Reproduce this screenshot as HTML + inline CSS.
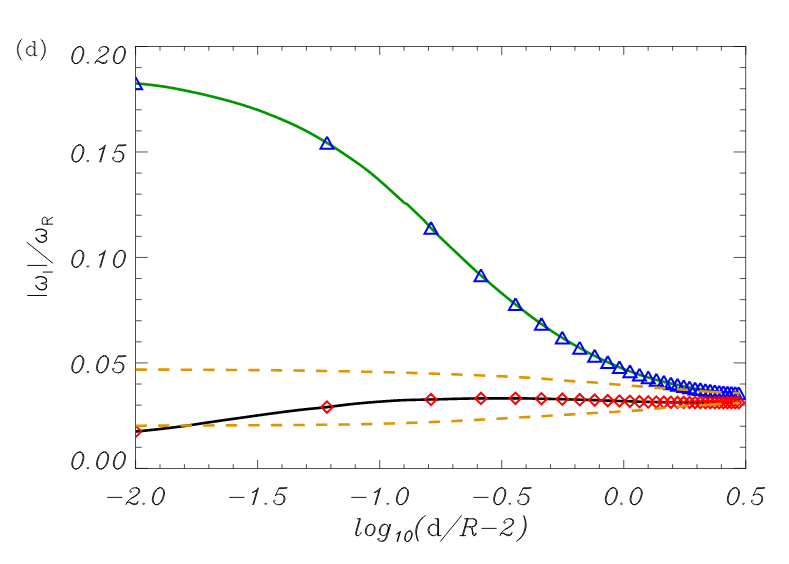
<!DOCTYPE html>
<html><head><meta charset="utf-8"><title>plot</title>
<style>html,body{margin:0;padding:0;background:#fff;font-family:"Liberation Sans",sans-serif;}svg{display:block}</style>
</head><body>
<svg width="789" height="564" viewBox="0 0 789 564" role="img" aria-label="(d) |omega_I|/omega_R versus log10(d/R-2)">
<title>(d) |ω_I|/ω_R vs log10(d/R−2)</title>
<desc>Line chart. x axis log10(d/R-2) from -2.0 to 0.5; y axis |ω_I|/ω_R from 0.00 to 0.20. Green solid curve with blue triangles, black solid curve with red diamonds, two orange dashed curves.</desc>
<rect width="789" height="564" fill="#fff"/>
<defs><clipPath id="pc"><rect x="135.6" y="46.5" width="610.1999999999999" height="421.9"/></clipPath></defs>
<rect x="135.6" y="46.5" width="610.1999999999999" height="421.9" fill="none" stroke="#000" stroke-width="0.68"/>
<path d="M135.60,468.4 v-8.44 M135.60,46.5 v8.44 M160.01,468.4 v-4.22 M160.01,46.5 v4.22 M184.42,468.4 v-4.22 M184.42,46.5 v4.22 M208.82,468.4 v-4.22 M208.82,46.5 v4.22 M233.23,468.4 v-4.22 M233.23,46.5 v4.22 M257.64,468.4 v-8.44 M257.64,46.5 v8.44 M282.05,468.4 v-4.22 M282.05,46.5 v4.22 M306.46,468.4 v-4.22 M306.46,46.5 v4.22 M330.86,468.4 v-4.22 M330.86,46.5 v4.22 M355.27,468.4 v-4.22 M355.27,46.5 v4.22 M379.68,468.4 v-8.44 M379.68,46.5 v8.44 M404.09,468.4 v-4.22 M404.09,46.5 v4.22 M428.50,468.4 v-4.22 M428.50,46.5 v4.22 M452.90,468.4 v-4.22 M452.90,46.5 v4.22 M477.31,468.4 v-4.22 M477.31,46.5 v4.22 M501.72,468.4 v-8.44 M501.72,46.5 v8.44 M526.13,468.4 v-4.22 M526.13,46.5 v4.22 M550.54,468.4 v-4.22 M550.54,46.5 v4.22 M574.94,468.4 v-4.22 M574.94,46.5 v4.22 M599.35,468.4 v-4.22 M599.35,46.5 v4.22 M623.76,468.4 v-8.44 M623.76,46.5 v8.44 M648.17,468.4 v-4.22 M648.17,46.5 v4.22 M672.58,468.4 v-4.22 M672.58,46.5 v4.22 M696.98,468.4 v-4.22 M696.98,46.5 v4.22 M721.39,468.4 v-4.22 M721.39,46.5 v4.22 M745.80,468.4 v-8.44 M745.80,46.5 v8.44 M135.6,468.40 h12.2 M745.8,468.40 h-12.2 M135.6,447.30 h6.1 M745.8,447.30 h-6.1 M135.6,426.21 h6.1 M745.8,426.21 h-6.1 M135.6,405.12 h6.1 M745.8,405.12 h-6.1 M135.6,384.02 h6.1 M745.8,384.02 h-6.1 M135.6,362.92 h12.2 M745.8,362.92 h-12.2 M135.6,341.83 h6.1 M745.8,341.83 h-6.1 M135.6,320.74 h6.1 M745.8,320.74 h-6.1 M135.6,299.64 h6.1 M745.8,299.64 h-6.1 M135.6,278.54 h6.1 M745.8,278.54 h-6.1 M135.6,257.45 h12.2 M745.8,257.45 h-12.2 M135.6,236.35 h6.1 M745.8,236.35 h-6.1 M135.6,215.26 h6.1 M745.8,215.26 h-6.1 M135.6,194.16 h6.1 M745.8,194.16 h-6.1 M135.6,173.07 h6.1 M745.8,173.07 h-6.1 M135.6,151.97 h12.2 M745.8,151.97 h-12.2 M135.6,130.88 h6.1 M745.8,130.88 h-6.1 M135.6,109.79 h6.1 M745.8,109.79 h-6.1 M135.6,88.69 h6.1 M745.8,88.69 h-6.1 M135.6,67.60 h6.1 M745.8,67.60 h-6.1 M135.6,46.50 h12.2 M745.8,46.50 h-12.2 " fill="none" stroke="#000" stroke-width="0.68"/>
<g clip-path="url(#pc)">
<path d="M135.50,83.40 L136.17,83.45 L136.85,83.50 L137.52,83.56 L138.19,83.61 L138.86,83.67 L139.54,83.73 L140.21,83.79 L140.88,83.85 L141.55,83.91 L142.23,83.97 L142.90,84.04 L143.57,84.10 L144.24,84.17 L144.92,84.24 L145.59,84.31 L146.26,84.38 L146.94,84.45 L147.61,84.52 L148.28,84.60 L148.95,84.67 L149.63,84.75 L150.30,84.83 L150.97,84.90 L151.64,84.98 L152.32,85.06 L152.99,85.15 L153.66,85.23 L154.33,85.31 L155.01,85.39 L155.68,85.48 L156.35,85.57 L157.02,85.65 L157.70,85.74 L158.37,85.83 L159.04,85.92 L159.72,86.01 L160.39,86.10 L161.06,86.19 L161.73,86.28 L162.41,86.38 L163.08,86.48 L163.75,86.58 L164.42,86.68 L165.10,86.79 L165.77,86.89 L166.44,87.00 L167.11,87.11 L167.79,87.22 L168.46,87.34 L169.13,87.45 L169.81,87.57 L170.48,87.69 L171.15,87.81 L171.82,87.93 L172.50,88.05 L173.17,88.17 L173.84,88.30 L174.51,88.42 L175.19,88.55 L175.86,88.68 L176.53,88.81 L177.20,88.94 L177.88,89.07 L178.55,89.20 L179.22,89.33 L179.90,89.47 L180.57,89.60 L181.24,89.74 L181.91,89.87 L182.59,90.01 L183.26,90.15 L183.93,90.28 L184.60,90.42 L185.28,90.56 L185.95,90.70 L186.62,90.84 L187.29,90.97 L187.97,91.11 L188.64,91.25 L189.31,91.39 L189.98,91.53 L190.66,91.67 L191.33,91.81 L192.00,91.95 L192.68,92.09 L193.35,92.23 L194.02,92.38 L194.69,92.52 L195.37,92.67 L196.04,92.81 L196.71,92.96 L197.38,93.11 L198.06,93.26 L198.73,93.41 L199.40,93.56 L200.07,93.71 L200.75,93.86 L201.42,94.02 L202.09,94.17 L202.77,94.33 L203.44,94.48 L204.11,94.64 L204.78,94.80 L205.46,94.96 L206.13,95.12 L206.80,95.28 L207.47,95.44 L208.15,95.60 L208.82,95.76 L209.49,95.92 L210.16,96.09 L210.84,96.25 L211.51,96.42 L212.18,96.58 L212.86,96.75 L213.53,96.92 L214.20,97.09 L214.87,97.26 L215.55,97.43 L216.22,97.60 L216.89,97.77 L217.56,97.94 L218.24,98.11 L218.91,98.28 L219.58,98.45 L220.25,98.63 L220.93,98.80 L221.60,98.98 L222.27,99.15 L222.94,99.33 L223.62,99.51 L224.29,99.69 L224.96,99.87 L225.64,100.05 L226.31,100.23 L226.98,100.41 L227.65,100.59 L228.33,100.78 L229.00,100.96 L229.67,101.15 L230.34,101.34 L231.02,101.52 L231.69,101.71 L232.36,101.90 L233.03,102.09 L233.71,102.29 L234.38,102.48 L235.05,102.68 L235.73,102.87 L236.40,103.07 L237.07,103.27 L237.74,103.47 L238.42,103.67 L239.09,103.87 L239.76,104.07 L240.43,104.28 L241.11,104.48 L241.78,104.69 L242.45,104.90 L243.12,105.11 L243.80,105.32 L244.47,105.53 L245.14,105.75 L245.82,105.96 L246.49,106.18 L247.16,106.40 L247.83,106.62 L248.51,106.84 L249.18,107.06 L249.85,107.28 L250.52,107.51 L251.20,107.74 L251.87,107.97 L252.54,108.20 L253.21,108.43 L253.89,108.66 L254.56,108.90 L255.23,109.13 L255.91,109.37 L256.58,109.61 L257.25,109.85 L257.92,110.09 L258.60,110.33 L259.27,110.58 L259.94,110.82 L260.61,111.07 L261.29,111.32 L261.96,111.57 L262.63,111.82 L263.30,112.07 L263.98,112.32 L264.65,112.58 L265.32,112.83 L265.99,113.09 L266.67,113.35 L267.34,113.61 L268.01,113.87 L268.69,114.13 L269.36,114.39 L270.03,114.65 L270.70,114.92 L271.38,115.19 L272.05,115.45 L272.72,115.72 L273.39,115.99 L274.07,116.26 L274.74,116.54 L275.41,116.81 L276.08,117.08 L276.76,117.36 L277.43,117.64 L278.10,117.92 L278.78,118.20 L279.45,118.48 L280.12,118.76 L280.79,119.04 L281.47,119.33 L282.14,119.62 L282.81,119.91 L283.48,120.20 L284.16,120.49 L284.83,120.78 L285.50,121.07 L286.17,121.37 L286.85,121.67 L287.52,121.97 L288.19,122.27 L288.87,122.57 L289.54,122.87 L290.21,123.18 L290.88,123.48 L291.56,123.79 L292.23,124.10 L292.90,124.41 L293.57,124.73 L294.25,125.04 L294.92,125.36 L295.59,125.68 L296.26,126.00 L296.94,126.32 L297.61,126.64 L298.28,126.97 L298.95,127.29 L299.63,127.62 L300.30,127.95 L300.97,128.29 L301.65,128.62 L302.32,128.96 L302.99,129.30 L303.66,129.64 L304.34,129.99 L305.01,130.34 L305.68,130.69 L306.35,131.05 L307.03,131.40 L307.70,131.76 L308.37,132.12 L309.04,132.49 L309.72,132.86 L310.39,133.22 L311.06,133.60 L311.74,133.97 L312.41,134.34 L313.08,134.72 L313.75,135.10 L314.43,135.48 L315.10,135.86 L315.77,136.25 L316.44,136.64 L317.12,137.02 L317.79,137.41 L318.46,137.80 L319.13,138.20 L319.81,138.59 L320.48,138.99 L321.15,139.38 L321.83,139.78 L322.50,140.18 L323.17,140.58 L323.84,140.98 L324.52,141.39 L325.19,141.79 L325.86,142.19 L326.53,142.60 L327.21,143.01 L327.88,143.42 L328.55,143.83 L329.22,144.24 L329.90,144.66 L330.57,145.07 L331.24,145.49 L331.91,145.92 L332.59,146.34 L333.26,146.77 L333.93,147.20 L334.61,147.63 L335.28,148.06 L335.95,148.49 L336.62,148.93 L337.30,149.37 L337.97,149.81 L338.64,150.25 L339.31,150.69 L339.99,151.13 L340.66,151.58 L341.33,152.03 L342.00,152.48 L342.68,152.93 L343.35,153.38 L344.02,153.83 L344.70,154.28 L345.37,154.74 L346.04,155.20 L346.71,155.65 L347.39,156.11 L348.06,156.57 L348.73,157.03 L349.40,157.49 L350.08,157.95 L350.75,158.42 L351.42,158.88 L352.09,159.34 L352.77,159.81 L353.44,160.27 L354.11,160.74 L354.79,161.21 L355.46,161.68 L356.13,162.15 L356.80,162.63 L357.48,163.10 L358.15,163.58 L358.82,164.06 L359.49,164.54 L360.17,165.03 L360.84,165.52 L361.51,166.01 L362.18,166.50 L362.86,167.00 L363.53,167.50 L364.20,168.00 L364.87,168.50 L365.55,169.01 L366.22,169.53 L366.89,170.04 L367.57,170.56 L368.24,171.09 L368.91,171.62 L369.58,172.15 L370.26,172.69 L370.93,173.23 L371.60,173.78 L372.27,174.33 L372.95,174.89 L373.62,175.45 L374.29,176.01 L374.96,176.58 L375.64,177.15 L376.31,177.73 L376.98,178.30 L377.66,178.88 L378.33,179.46 L379.00,180.04 L379.67,180.63 L380.35,181.21 L381.02,181.80 L381.69,182.39 L382.36,182.98 L383.04,183.57 L383.71,184.16 L384.38,184.76 L385.05,185.35 L385.73,185.94 L386.40,186.55 L387.07,187.15 L387.75,187.76 L388.42,188.38 L389.09,188.99 L389.76,189.61 L390.44,190.22 L391.11,190.84 L391.78,191.45 L392.45,192.06 L393.13,192.67 L393.80,193.28 L394.47,193.89 L395.14,194.50 L395.82,195.11 L396.49,195.72 L397.16,196.33 L397.83,196.94 L398.51,197.55 L399.18,198.16 L399.85,198.76 L400.53,199.37 L401.20,199.98 L401.87,200.60 L402.54,201.26 L403.22,201.95 L403.89,202.55 L404.56,202.97 L405.23,203.27 L405.91,203.54 L406.58,203.85 L407.25,204.28 L407.92,204.90 L408.60,205.60 L409.27,206.26 L409.94,206.90 L410.62,207.55 L411.29,208.19 L411.96,208.83 L412.63,209.47 L413.31,210.11 L413.98,210.75 L414.65,211.39 L415.32,212.03 L416.00,212.67 L416.67,213.31 L417.34,213.95 L418.01,214.60 L418.69,215.24 L419.36,215.87 L420.03,216.50 L420.71,217.13 L421.38,217.77 L422.05,218.41 L422.72,219.07 L423.40,219.74 L424.07,220.43 L424.74,221.15 L425.41,221.88 L426.09,222.63 L426.76,223.39 L427.43,224.16 L428.10,224.92 L428.78,225.68 L429.45,226.44 L430.12,227.17 L430.80,227.89 L431.47,228.59 L432.14,229.29 L432.81,229.98 L433.49,230.67 L434.16,231.35 L434.83,232.03 L435.50,232.71 L436.18,233.38 L436.85,234.05 L437.52,234.72 L438.19,235.38 L438.87,236.05 L439.54,236.70 L440.21,237.36 L440.88,238.01 L441.56,238.66 L442.23,239.31 L442.90,239.96 L443.58,240.60 L444.25,241.24 L444.92,241.88 L445.59,242.52 L446.27,243.16 L446.94,243.80 L447.61,244.43 L448.28,245.07 L448.96,245.70 L449.63,246.34 L450.30,246.97 L450.97,247.60 L451.65,248.24 L452.32,248.87 L452.99,249.50 L453.67,250.14 L454.34,250.77 L455.01,251.40 L455.68,252.04 L456.36,252.67 L457.03,253.31 L457.70,253.95 L458.37,254.58 L459.05,255.22 L459.72,255.86 L460.39,256.49 L461.06,257.13 L461.74,257.77 L462.41,258.40 L463.08,259.04 L463.76,259.67 L464.43,260.30 L465.10,260.94 L465.77,261.57 L466.45,262.20 L467.12,262.83 L467.79,263.46 L468.46,264.09 L469.14,264.71 L469.81,265.34 L470.48,265.96 L471.15,266.59 L471.83,267.21 L472.50,267.83 L473.17,268.45 L473.84,269.06 L474.52,269.68 L475.19,270.29 L475.86,270.90 L476.54,271.51 L477.21,272.12 L477.88,272.72 L478.55,273.33 L479.23,273.93 L479.90,274.53 L480.57,275.12 L481.24,275.72 L481.92,276.31 L482.59,276.90 L483.26,277.49 L483.93,278.08 L484.61,278.67 L485.28,279.25 L485.95,279.84 L486.63,280.42 L487.30,281.00 L487.97,281.59 L488.64,282.17 L489.32,282.75 L489.99,283.33 L490.66,283.90 L491.33,284.48 L492.01,285.05 L492.68,285.63 L493.35,286.20 L494.02,286.77 L494.70,287.34 L495.37,287.91 L496.04,288.48 L496.72,289.04 L497.39,289.61 L498.06,290.17 L498.73,290.74 L499.41,291.30 L500.08,291.86 L500.75,292.42 L501.42,292.98 L502.10,293.54 L502.77,294.09 L503.44,294.65 L504.11,295.20 L504.79,295.75 L505.46,296.31 L506.13,296.86 L506.80,297.41 L507.48,297.95 L508.15,298.50 L508.82,299.05 L509.50,299.59 L510.17,300.13 L510.84,300.68 L511.51,301.22 L512.19,301.76 L512.86,302.30 L513.53,302.83 L514.20,303.37 L514.88,303.91 L515.55,304.44 L516.22,304.97 L516.89,305.50 L517.57,306.04 L518.24,306.57 L518.91,307.10 L519.59,307.63 L520.26,308.15 L520.93,308.68 L521.60,309.21 L522.28,309.73 L522.95,310.25 L523.62,310.78 L524.29,311.30 L524.97,311.82 L525.64,312.33 L526.31,312.85 L526.98,313.37 L527.66,313.88 L528.33,314.39 L529.00,314.90 L529.68,315.41 L530.35,315.92 L531.02,316.43 L531.69,316.93 L532.37,317.44 L533.04,317.94 L533.71,318.44 L534.38,318.93 L535.06,319.43 L535.73,319.92 L536.40,320.41 L537.07,320.90 L537.75,321.39 L538.42,321.88 L539.09,322.36 L539.76,322.84 L540.44,323.32 L541.11,323.80 L541.78,324.27 L542.46,324.74 L543.13,325.21 L543.80,325.68 L544.47,326.15 L545.15,326.62 L545.82,327.08 L546.49,327.54 L547.16,328.00 L547.84,328.46 L548.51,328.92 L549.18,329.37 L549.85,329.83 L550.53,330.28 L551.20,330.73 L551.87,331.17 L552.55,331.62 L553.22,332.06 L553.89,332.51 L554.56,332.95 L555.24,333.38 L555.91,333.82 L556.58,334.25 L557.25,334.69 L557.93,335.12 L558.60,335.54 L559.27,335.97 L559.94,336.39 L560.62,336.82 L561.29,337.24 L561.96,337.65 L562.64,338.07 L563.31,338.48 L563.98,338.89 L564.65,339.30 L565.33,339.71 L566.00,340.11 L566.67,340.51 L567.34,340.91 L568.02,341.31 L568.69,341.70 L569.36,342.10 L570.03,342.49 L570.71,342.88 L571.38,343.27 L572.05,343.66 L572.72,344.04 L573.40,344.43 L574.07,344.81 L574.74,345.19 L575.42,345.57 L576.09,345.95 L576.76,346.33 L577.43,346.70 L578.11,347.08 L578.78,347.45 L579.45,347.83 L580.12,348.20 L580.80,348.57 L581.47,348.95 L582.14,349.32 L582.81,349.69 L583.49,350.05 L584.16,350.42 L584.83,350.79 L585.51,351.15 L586.18,351.51 L586.85,351.87 L587.52,352.23 L588.20,352.59 L588.87,352.95 L589.54,353.30 L590.21,353.65 L590.89,354.01 L591.56,354.35 L592.23,354.70 L592.90,355.04 L593.58,355.39 L594.25,355.73 L594.92,356.06 L595.60,356.40 L596.27,356.73 L596.94,357.06 L597.61,357.39 L598.29,357.72 L598.96,358.05 L599.63,358.37 L600.30,358.69 L600.98,359.01 L601.65,359.33 L602.32,359.65 L602.99,359.97 L603.67,360.28 L604.34,360.60 L605.01,360.91 L605.68,361.22 L606.36,361.53 L607.03,361.84 L607.70,362.15 L608.38,362.45 L609.05,362.76 L609.72,363.07 L610.39,363.37 L611.07,363.67 L611.74,363.98 L612.41,364.28 L613.08,364.57 L613.76,364.87 L614.43,365.17 L615.10,365.46 L615.77,365.75 L616.45,366.04 L617.12,366.33 L617.79,366.61 L618.47,366.89 L619.14,367.17 L619.81,367.45 L620.48,367.73 L621.16,368.00 L621.83,368.27 L622.50,368.54 L623.17,368.80 L623.85,369.07 L624.52,369.33 L625.19,369.59 L625.86,369.85 L626.54,370.11 L627.21,370.37 L627.88,370.62 L628.56,370.87 L629.23,371.12 L629.90,371.37 L630.57,371.62 L631.25,371.87 L631.92,372.12 L632.59,372.36 L633.26,372.61 L633.94,372.85 L634.61,373.09 L635.28,373.33 L635.95,373.56 L636.63,373.80 L637.30,374.03 L637.97,374.26 L638.65,374.48 L639.32,374.71 L639.99,374.93 L640.66,375.14 L641.34,375.36 L642.01,375.57 L642.68,375.78 L643.35,375.98 L644.03,376.19 L644.70,376.40 L645.37,376.60 L646.04,376.80 L646.72,377.01 L647.39,377.21 L648.06,377.42 L648.73,377.63 L649.41,377.84 L650.08,378.05 L650.75,378.26 L651.43,378.47 L652.10,378.67 L652.77,378.88 L653.44,379.09 L654.12,379.29 L654.79,379.48 L655.46,379.68 L656.13,379.86 L656.81,380.05 L657.48,380.23 L658.15,380.41 L658.82,380.58 L659.50,380.75 L660.17,380.92 L660.84,381.09 L661.52,381.26 L662.19,381.43 L662.86,381.59 L663.53,381.76 L664.21,381.93 L664.88,382.09 L665.55,382.26 L666.22,382.42 L666.90,382.59 L667.57,382.75 L668.24,382.91 L668.91,383.07 L669.59,383.23 L670.26,383.38 L670.93,383.53 L671.61,383.67 L672.28,383.81 L672.95,383.95 L673.62,384.09 L674.30,384.22 L674.97,384.35 L675.64,384.49 L676.31,384.63 L676.99,384.77 L677.66,384.93 L678.33,385.08 L679.00,385.25 L679.68,385.41 L680.35,385.58 L681.02,385.75 L681.69,385.91 L682.37,386.07 L683.04,386.22 L683.71,386.37 L684.39,386.50 L685.06,386.63 L685.73,386.76 L686.40,386.88 L687.08,387.01 L687.75,387.13 L688.42,387.26 L689.09,387.40 L689.77,387.54 L690.44,387.70 L691.11,387.87 L691.78,388.03 L692.46,388.20 L693.13,388.34 L693.80,388.48 L694.48,388.58 L695.15,388.67 L695.82,388.74 L696.49,388.79 L697.17,388.85 L697.84,388.90 L698.51,388.96 L699.18,389.02 L699.86,389.09 L700.53,389.19 L701.20,389.31 L701.87,389.44 L702.55,389.58 L703.22,389.72 L703.89,389.85 L704.57,389.96 L705.24,390.06 L705.91,390.15 L706.58,390.23 L707.26,390.31 L707.93,390.38 L708.60,390.46 L709.27,390.54 L709.95,390.62 L710.62,390.70 L711.29,390.79 L711.96,390.87 L712.64,390.96 L713.31,391.05 L713.98,391.13 L714.65,391.22 L715.33,391.31 L716.00,391.41 L716.67,391.50 L717.35,391.59 L718.02,391.68 L718.69,391.76 L719.36,391.84 L720.04,391.91 L720.71,391.98 L721.38,392.04 L722.05,392.10 L722.73,392.16 L723.40,392.23 L724.07,392.30 L724.74,392.37 L725.42,392.44 L726.09,392.50 L726.76,392.56 L727.44,392.61 L728.11,392.65 L728.78,392.68 L729.45,392.71 L730.13,392.75 L730.80,392.78 L731.47,392.82 L732.14,392.87 L732.82,392.93 L733.49,392.98 L734.16,393.04 L734.83,393.09 L735.51,393.15 L736.18,393.21 L736.85,393.27 L737.53,393.32 L738.20,393.37 L738.87,393.41 L739.54,393.44 L740.22,393.47" fill="none" stroke="#009600" stroke-width="2.65" stroke-linejoin="round"/>
<path d="M135.60,77.31 L142.10,89.16 L129.10,89.16 L135.60,77.31 M327.00,136.78 L333.50,148.63 L320.50,148.63 L327.00,136.78 M431.00,222.00 L437.50,233.85 L424.50,233.85 L431.00,222.00 M480.97,269.37 L487.47,281.22 L474.47,281.22 L480.97,269.37 M515.46,298.27 L521.96,310.12 L508.96,310.12 L515.46,298.27 M541.45,317.93 L547.95,329.78 L534.95,329.78 L541.45,317.93 M562.30,331.76 L568.80,343.61 L555.80,343.61 L562.30,331.76 M579.71,341.87 L586.21,353.72 L573.21,353.72 L579.71,341.87 M594.67,349.84 L601.17,361.69 L588.17,361.69 L594.67,349.84 M607.77,356.08 L614.27,367.93 L601.27,367.93 L607.77,356.08 M619.43,361.20 L625.93,373.05 L612.93,373.05 L619.43,361.20 M629.94,365.29 L636.44,377.14 L623.44,377.14 L629.94,365.29 M639.49,368.66 L645.99,380.51 L632.99,380.51 L639.49,368.66 M648.26,371.38 L654.76,383.23 L641.76,383.23 L648.26,371.38 M656.35,373.83 L662.85,385.68 L649.85,385.68 L656.35,373.83 M663.88,375.74 L670.38,387.59 L657.38,387.59 L663.88,375.74 M670.90,377.42 L677.40,389.27 L664.40,389.27 L670.90,377.42 M677.48,378.79 L683.98,390.64 L670.98,390.64 L677.48,378.79 M683.68,380.26 L690.18,392.11 L677.18,392.11 L683.68,380.26 M689.54,381.39 L696.04,393.24 L683.04,393.24 L689.54,381.39 M695.09,382.56 L701.59,394.41 L688.59,394.41 L695.09,382.56 M700.37,383.07 L706.87,394.92 L693.87,394.92 L700.37,383.07 M705.39,383.98 L711.89,395.83 L698.89,395.83 L705.39,383.98 M710.19,384.55 L716.69,396.40 L703.69,396.40 L710.19,384.55 M714.78,385.14 L721.28,396.99 L708.28,396.99 L714.78,385.14 M719.18,385.72 L725.68,397.57 L712.68,397.57 L719.18,385.72 M723.40,386.13 L729.90,397.98 L716.90,397.98 L723.40,386.13 M727.47,386.51 L733.97,398.36 L720.97,398.36 L727.47,386.51 M731.38,386.72 L737.88,398.57 L724.88,398.57 L731.38,386.72 M735.15,387.02 L741.65,398.87 L728.65,398.87 L735.15,387.02 M738.79,387.31 L745.29,399.16 L732.29,399.16 L738.79,387.31 " fill="none" stroke="#0000ff" stroke-width="2.0" stroke-linejoin="miter" stroke-miterlimit="10"/>
<path d="M135.50,431.50 L136.17,431.44 L136.85,431.38 L137.52,431.32 L138.19,431.26 L138.86,431.20 L139.54,431.14 L140.21,431.07 L140.88,431.01 L141.55,430.95 L142.23,430.88 L142.90,430.82 L143.57,430.75 L144.24,430.69 L144.92,430.62 L145.59,430.56 L146.26,430.49 L146.94,430.42 L147.61,430.35 L148.28,430.28 L148.95,430.22 L149.63,430.15 L150.30,430.08 L150.97,430.01 L151.64,429.93 L152.32,429.86 L152.99,429.79 L153.66,429.72 L154.33,429.65 L155.01,429.57 L155.68,429.50 L156.35,429.43 L157.02,429.35 L157.70,429.28 L158.37,429.20 L159.04,429.13 L159.72,429.05 L160.39,428.97 L161.06,428.90 L161.73,428.82 L162.41,428.74 L163.08,428.67 L163.75,428.59 L164.42,428.51 L165.10,428.43 L165.77,428.35 L166.44,428.27 L167.11,428.19 L167.79,428.11 L168.46,428.03 L169.13,427.95 L169.81,427.87 L170.48,427.79 L171.15,427.70 L171.82,427.62 L172.50,427.54 L173.17,427.46 L173.84,427.37 L174.51,427.29 L175.19,427.21 L175.86,427.12 L176.53,427.04 L177.20,426.95 L177.88,426.87 L178.55,426.78 L179.22,426.70 L179.90,426.61 L180.57,426.53 L181.24,426.44 L181.91,426.35 L182.59,426.26 L183.26,426.17 L183.93,426.08 L184.60,425.98 L185.28,425.89 L185.95,425.80 L186.62,425.70 L187.29,425.60 L187.97,425.50 L188.64,425.41 L189.31,425.31 L189.98,425.21 L190.66,425.11 L191.33,425.01 L192.00,424.90 L192.68,424.80 L193.35,424.70 L194.02,424.60 L194.69,424.49 L195.37,424.39 L196.04,424.29 L196.71,424.18 L197.38,424.08 L198.06,423.97 L198.73,423.87 L199.40,423.77 L200.07,423.66 L200.75,423.56 L201.42,423.45 L202.09,423.35 L202.77,423.25 L203.44,423.14 L204.11,423.04 L204.78,422.94 L205.46,422.83 L206.13,422.73 L206.80,422.63 L207.47,422.53 L208.15,422.43 L208.82,422.33 L209.49,422.23 L210.16,422.13 L210.84,422.04 L211.51,421.94 L212.18,421.84 L212.86,421.75 L213.53,421.65 L214.20,421.55 L214.87,421.46 L215.55,421.36 L216.22,421.26 L216.89,421.17 L217.56,421.07 L218.24,420.98 L218.91,420.88 L219.58,420.79 L220.25,420.69 L220.93,420.59 L221.60,420.50 L222.27,420.40 L222.94,420.31 L223.62,420.21 L224.29,420.12 L224.96,420.02 L225.64,419.93 L226.31,419.83 L226.98,419.74 L227.65,419.65 L228.33,419.55 L229.00,419.46 L229.67,419.36 L230.34,419.27 L231.02,419.17 L231.69,419.08 L232.36,418.98 L233.03,418.89 L233.71,418.80 L234.38,418.70 L235.05,418.61 L235.73,418.51 L236.40,418.42 L237.07,418.32 L237.74,418.23 L238.42,418.13 L239.09,418.04 L239.76,417.95 L240.43,417.85 L241.11,417.76 L241.78,417.66 L242.45,417.57 L243.12,417.47 L243.80,417.38 L244.47,417.28 L245.14,417.19 L245.82,417.09 L246.49,417.00 L247.16,416.90 L247.83,416.81 L248.51,416.71 L249.18,416.62 L249.85,416.52 L250.52,416.42 L251.20,416.33 L251.87,416.23 L252.54,416.14 L253.21,416.04 L253.89,415.95 L254.56,415.85 L255.23,415.76 L255.91,415.66 L256.58,415.57 L257.25,415.47 L257.92,415.38 L258.60,415.28 L259.27,415.19 L259.94,415.10 L260.61,415.00 L261.29,414.91 L261.96,414.82 L262.63,414.72 L263.30,414.63 L263.98,414.54 L264.65,414.44 L265.32,414.35 L265.99,414.26 L266.67,414.17 L267.34,414.08 L268.01,413.98 L268.69,413.89 L269.36,413.80 L270.03,413.71 L270.70,413.62 L271.38,413.53 L272.05,413.44 L272.72,413.35 L273.39,413.26 L274.07,413.18 L274.74,413.09 L275.41,413.00 L276.08,412.91 L276.76,412.82 L277.43,412.73 L278.10,412.64 L278.78,412.55 L279.45,412.46 L280.12,412.37 L280.79,412.29 L281.47,412.20 L282.14,412.11 L282.81,412.02 L283.48,411.93 L284.16,411.85 L284.83,411.76 L285.50,411.67 L286.17,411.59 L286.85,411.50 L287.52,411.41 L288.19,411.33 L288.87,411.24 L289.54,411.16 L290.21,411.07 L290.88,410.99 L291.56,410.91 L292.23,410.82 L292.90,410.74 L293.57,410.66 L294.25,410.58 L294.92,410.50 L295.59,410.41 L296.26,410.33 L296.94,410.26 L297.61,410.18 L298.28,410.10 L298.95,410.02 L299.63,409.94 L300.30,409.87 L300.97,409.79 L301.65,409.72 L302.32,409.64 L302.99,409.57 L303.66,409.50 L304.34,409.42 L305.01,409.35 L305.68,409.28 L306.35,409.21 L307.03,409.14 L307.70,409.08 L308.37,409.01 L309.04,408.94 L309.72,408.87 L310.39,408.80 L311.06,408.74 L311.74,408.67 L312.41,408.60 L313.08,408.54 L313.75,408.47 L314.43,408.41 L315.10,408.34 L315.77,408.27 L316.44,408.21 L317.12,408.14 L317.79,408.07 L318.46,408.00 L319.13,407.94 L319.81,407.87 L320.48,407.80 L321.15,407.73 L321.83,407.66 L322.50,407.59 L323.17,407.52 L323.84,407.45 L324.52,407.38 L325.19,407.31 L325.86,407.23 L326.53,407.16 L327.21,407.08 L327.88,407.01 L328.55,406.93 L329.22,406.85 L329.90,406.77 L330.57,406.69 L331.24,406.61 L331.91,406.52 L332.59,406.44 L333.26,406.36 L333.93,406.27 L334.61,406.19 L335.28,406.10 L335.95,406.02 L336.62,405.93 L337.30,405.85 L337.97,405.76 L338.64,405.68 L339.31,405.59 L339.99,405.50 L340.66,405.42 L341.33,405.33 L342.00,405.25 L342.68,405.16 L343.35,405.08 L344.02,405.00 L344.70,404.91 L345.37,404.83 L346.04,404.75 L346.71,404.67 L347.39,404.59 L348.06,404.51 L348.73,404.43 L349.40,404.36 L350.08,404.28 L350.75,404.21 L351.42,404.13 L352.09,404.06 L352.77,403.99 L353.44,403.93 L354.11,403.86 L354.79,403.79 L355.46,403.73 L356.13,403.66 L356.80,403.59 L357.48,403.53 L358.15,403.46 L358.82,403.40 L359.49,403.34 L360.17,403.27 L360.84,403.21 L361.51,403.15 L362.18,403.09 L362.86,403.02 L363.53,402.96 L364.20,402.90 L364.87,402.84 L365.55,402.78 L366.22,402.73 L366.89,402.67 L367.57,402.61 L368.24,402.55 L368.91,402.49 L369.58,402.44 L370.26,402.38 L370.93,402.33 L371.60,402.27 L372.27,402.22 L372.95,402.16 L373.62,402.11 L374.29,402.06 L374.96,402.01 L375.64,401.96 L376.31,401.90 L376.98,401.85 L377.66,401.80 L378.33,401.76 L379.00,401.71 L379.67,401.66 L380.35,401.61 L381.02,401.56 L381.69,401.52 L382.36,401.47 L383.04,401.42 L383.71,401.37 L384.38,401.32 L385.05,401.28 L385.73,401.23 L386.40,401.18 L387.07,401.13 L387.75,401.09 L388.42,401.04 L389.09,400.99 L389.76,400.95 L390.44,400.90 L391.11,400.86 L391.78,400.81 L392.45,400.77 L393.13,400.72 L393.80,400.68 L394.47,400.64 L395.14,400.60 L395.82,400.56 L396.49,400.52 L397.16,400.48 L397.83,400.44 L398.51,400.40 L399.18,400.37 L399.85,400.33 L400.53,400.30 L401.20,400.27 L401.87,400.23 L402.54,400.20 L403.22,400.17 L403.89,400.15 L404.56,400.12 L405.23,400.09 L405.91,400.07 L406.58,400.05 L407.25,400.03 L407.92,400.01 L408.60,399.99 L409.27,399.97 L409.94,399.95 L410.62,399.93 L411.29,399.91 L411.96,399.89 L412.63,399.88 L413.31,399.86 L413.98,399.84 L414.65,399.83 L415.32,399.81 L416.00,399.80 L416.67,399.79 L417.34,399.77 L418.01,399.76 L418.69,399.74 L419.36,399.73 L420.03,399.72 L420.71,399.70 L421.38,399.69 L422.05,399.68 L422.72,399.66 L423.40,399.65 L424.07,399.64 L424.74,399.63 L425.41,399.61 L426.09,399.60 L426.76,399.59 L427.43,399.57 L428.10,399.56 L428.78,399.55 L429.45,399.53 L430.12,399.52 L430.80,399.50 L431.47,399.49 L432.14,399.47 L432.81,399.46 L433.49,399.44 L434.16,399.42 L434.83,399.41 L435.50,399.39 L436.18,399.37 L436.85,399.36 L437.52,399.34 L438.19,399.32 L438.87,399.31 L439.54,399.29 L440.21,399.27 L440.88,399.25 L441.56,399.23 L442.23,399.22 L442.90,399.20 L443.58,399.18 L444.25,399.16 L444.92,399.14 L445.59,399.13 L446.27,399.11 L446.94,399.09 L447.61,399.07 L448.28,399.05 L448.96,399.03 L449.63,399.01 L450.30,399.00 L450.97,398.98 L451.65,398.96 L452.32,398.94 L452.99,398.92 L453.67,398.91 L454.34,398.89 L455.01,398.87 L455.68,398.85 L456.36,398.83 L457.03,398.82 L457.70,398.80 L458.37,398.78 L459.05,398.77 L459.72,398.75 L460.39,398.73 L461.06,398.72 L461.74,398.70 L462.41,398.69 L463.08,398.67 L463.76,398.66 L464.43,398.64 L465.10,398.63 L465.77,398.61 L466.45,398.60 L467.12,398.58 L467.79,398.57 L468.46,398.56 L469.14,398.55 L469.81,398.53 L470.48,398.52 L471.15,398.51 L471.83,398.50 L472.50,398.49 L473.17,398.48 L473.84,398.47 L474.52,398.46 L475.19,398.45 L475.86,398.45 L476.54,398.44 L477.21,398.43 L477.88,398.42 L478.55,398.42 L479.23,398.41 L479.90,398.41 L480.57,398.40 L481.24,398.40 L481.92,398.40 L482.59,398.39 L483.26,398.39 L483.93,398.39 L484.61,398.38 L485.28,398.38 L485.95,398.38 L486.63,398.37 L487.30,398.37 L487.97,398.37 L488.64,398.37 L489.32,398.36 L489.99,398.36 L490.66,398.36 L491.33,398.35 L492.01,398.35 L492.68,398.35 L493.35,398.35 L494.02,398.34 L494.70,398.34 L495.37,398.34 L496.04,398.34 L496.72,398.33 L497.39,398.33 L498.06,398.33 L498.73,398.33 L499.41,398.33 L500.08,398.32 L500.75,398.32 L501.42,398.32 L502.10,398.32 L502.77,398.32 L503.44,398.31 L504.11,398.31 L504.79,398.31 L505.46,398.31 L506.13,398.31 L506.80,398.31 L507.48,398.31 L508.15,398.31 L508.82,398.30 L509.50,398.30 L510.17,398.30 L510.84,398.30 L511.51,398.30 L512.19,398.30 L512.86,398.30 L513.53,398.30 L514.20,398.30 L514.88,398.30 L515.55,398.30 L516.22,398.30 L516.89,398.30 L517.57,398.31 L518.24,398.31 L518.91,398.32 L519.59,398.32 L520.26,398.33 L520.93,398.34 L521.60,398.34 L522.28,398.35 L522.95,398.36 L523.62,398.37 L524.29,398.38 L524.97,398.40 L525.64,398.41 L526.31,398.42 L526.98,398.43 L527.66,398.45 L528.33,398.46 L529.00,398.47 L529.68,398.49 L530.35,398.50 L531.02,398.52 L531.69,398.53 L532.37,398.55 L533.04,398.56 L533.71,398.58 L534.38,398.60 L535.06,398.61 L535.73,398.63 L536.40,398.64 L537.07,398.66 L537.75,398.67 L538.42,398.69 L539.09,398.70 L539.76,398.72 L540.44,398.73 L541.11,398.74 L541.78,398.76 L542.46,398.77 L543.13,398.78 L543.80,398.79 L544.47,398.81 L545.15,398.82 L545.82,398.83 L546.49,398.85 L547.16,398.86 L547.84,398.88 L548.51,398.89 L549.18,398.90 L549.85,398.92 L550.53,398.93 L551.20,398.95 L551.87,398.96 L552.55,398.97 L553.22,398.99 L553.89,399.00 L554.56,399.02 L555.24,399.03 L555.91,399.05 L556.58,399.06 L557.25,399.08 L557.93,399.09 L558.60,399.11 L559.27,399.13 L559.94,399.14 L560.62,399.16 L561.29,399.17 L561.96,399.19 L562.64,399.21 L563.31,399.23 L563.98,399.24 L564.65,399.26 L565.33,399.28 L566.00,399.30 L566.67,399.32 L567.34,399.34 L568.02,399.36 L568.69,399.38 L569.36,399.40 L570.03,399.42 L570.71,399.44 L571.38,399.46 L572.05,399.48 L572.72,399.50 L573.40,399.52 L574.07,399.54 L574.74,399.56 L575.42,399.58 L576.09,399.60 L576.76,399.62 L577.43,399.64 L578.11,399.66 L578.78,399.68 L579.45,399.70 L580.12,399.72 L580.80,399.74 L581.47,399.76 L582.14,399.77 L582.81,399.79 L583.49,399.81 L584.16,399.83 L584.83,399.85 L585.51,399.86 L586.18,399.88 L586.85,399.90 L587.52,399.91 L588.20,399.93 L588.87,399.95 L589.54,399.97 L590.21,399.99 L590.89,400.01 L591.56,400.03 L592.23,400.05 L592.90,400.07 L593.58,400.09 L594.25,400.11 L594.92,400.13 L595.60,400.15 L596.27,400.18 L596.94,400.20 L597.61,400.23 L598.29,400.25 L598.96,400.28 L599.63,400.31 L600.30,400.33 L600.98,400.36 L601.65,400.39 L602.32,400.41 L602.99,400.44 L603.67,400.47 L604.34,400.49 L605.01,400.52 L605.68,400.54 L606.36,400.57 L607.03,400.59 L607.70,400.62 L608.38,400.64 L609.05,400.67 L609.72,400.69 L610.39,400.71 L611.07,400.74 L611.74,400.76 L612.41,400.78 L613.08,400.80 L613.76,400.83 L614.43,400.85 L615.10,400.87 L615.77,400.89 L616.45,400.92 L617.12,400.94 L617.79,400.96 L618.47,400.98 L619.14,401.00 L619.81,401.02 L620.48,401.04 L621.16,401.06 L621.83,401.08 L622.50,401.10 L623.17,401.11 L623.85,401.13 L624.52,401.15 L625.19,401.17 L625.86,401.19 L626.54,401.21 L627.21,401.22 L627.88,401.24 L628.56,401.27 L629.23,401.29 L629.90,401.31 L630.57,401.34 L631.25,401.36 L631.92,401.39 L632.59,401.42 L633.26,401.45 L633.94,401.48 L634.61,401.51 L635.28,401.55 L635.95,401.58 L636.63,401.61 L637.30,401.63 L637.97,401.66 L638.65,401.68 L639.32,401.70 L639.99,401.72 L640.66,401.74 L641.34,401.76 L642.01,401.78 L642.68,401.79 L643.35,401.81 L644.03,401.82 L644.70,401.84 L645.37,401.85 L646.04,401.86 L646.72,401.88 L647.39,401.89 L648.06,401.91 L648.73,401.92 L649.41,401.93 L650.08,401.95 L650.75,401.96 L651.43,401.97 L652.10,401.99 L652.77,402.00 L653.44,402.01 L654.12,402.03 L654.79,402.04 L655.46,402.05 L656.13,402.07 L656.81,402.08 L657.48,402.09 L658.15,402.11 L658.82,402.12 L659.50,402.13 L660.17,402.15 L660.84,402.16 L661.52,402.17 L662.19,402.18 L662.86,402.19 L663.53,402.21 L664.21,402.22 L664.88,402.23 L665.55,402.24 L666.22,402.25 L666.90,402.26 L667.57,402.27 L668.24,402.28 L668.91,402.29 L669.59,402.30 L670.26,402.31 L670.93,402.32 L671.61,402.33 L672.28,402.34 L672.95,402.35 L673.62,402.36 L674.30,402.36 L674.97,402.37 L675.64,402.38 L676.31,402.39 L676.99,402.39 L677.66,402.40 L678.33,402.40 L679.00,402.41 L679.68,402.41 L680.35,402.42 L681.02,402.42 L681.69,402.43 L682.37,402.43 L683.04,402.44 L683.71,402.44 L684.39,402.45 L685.06,402.45 L685.73,402.46 L686.40,402.46 L687.08,402.47 L687.75,402.47 L688.42,402.48 L689.09,402.48 L689.77,402.49 L690.44,402.49 L691.11,402.50 L691.78,402.50 L692.46,402.51 L693.13,402.51 L693.80,402.52 L694.48,402.52 L695.15,402.53 L695.82,402.53 L696.49,402.54 L697.17,402.54 L697.84,402.54 L698.51,402.55 L699.18,402.55 L699.86,402.56 L700.53,402.56 L701.20,402.57 L701.87,402.57 L702.55,402.57 L703.22,402.58 L703.89,402.58 L704.57,402.59 L705.24,402.59 L705.91,402.59 L706.58,402.60 L707.26,402.60 L707.93,402.60 L708.60,402.61 L709.27,402.61 L709.95,402.61 L710.62,402.62 L711.29,402.62 L711.96,402.62 L712.64,402.63 L713.31,402.63 L713.98,402.63 L714.65,402.64 L715.33,402.64 L716.00,402.64 L716.67,402.65 L717.35,402.65 L718.02,402.65 L718.69,402.65 L719.36,402.66 L720.04,402.66 L720.71,402.66 L721.38,402.66 L722.05,402.67 L722.73,402.67 L723.40,402.67 L724.07,402.67 L724.74,402.68 L725.42,402.68 L726.09,402.68 L726.76,402.68 L727.44,402.68 L728.11,402.68 L728.78,402.69 L729.45,402.69 L730.13,402.69 L730.80,402.69 L731.47,402.69 L732.14,402.69 L732.82,402.69 L733.49,402.69 L734.16,402.70 L734.83,402.70 L735.51,402.70 L736.18,402.70 L736.85,402.70 L737.53,402.70 L738.20,402.70 L738.87,402.70 L739.54,402.70 L740.22,402.70" fill="none" stroke="#000" stroke-width="2.65" stroke-linejoin="round"/>
<path d="M141.30,431.49 L135.60,425.79 L129.90,431.49 L135.60,437.19 Z M332.70,407.11 L327.00,401.41 L321.30,407.11 L327.00,412.81 Z M436.70,399.50 L431.00,393.80 L425.30,399.50 L431.00,405.20 Z M486.67,398.40 L480.97,392.70 L475.27,398.40 L480.97,404.10 Z M521.16,398.30 L515.46,392.60 L509.76,398.30 L515.46,404.00 Z M547.15,398.75 L541.45,393.05 L535.75,398.75 L541.45,404.45 Z M568.00,399.20 L562.30,393.50 L556.60,399.20 L562.30,404.90 Z M585.41,399.71 L579.71,394.01 L574.01,399.71 L579.71,405.41 Z M600.37,400.12 L594.67,394.42 L588.97,400.12 L594.67,405.82 Z M613.47,400.62 L607.77,394.92 L602.07,400.62 L607.77,406.32 Z M625.13,401.01 L619.43,395.31 L613.73,401.01 L619.43,406.71 Z M635.64,401.31 L629.94,395.61 L624.24,401.31 L629.94,407.01 Z M645.19,401.71 L639.49,396.01 L633.79,401.71 L639.49,407.41 Z M653.96,401.91 L648.26,396.21 L642.56,401.91 L648.26,407.61 Z M662.05,402.07 L656.35,396.37 L650.65,402.07 L656.35,407.77 Z M669.58,402.21 L663.88,396.51 L658.18,402.21 L663.88,407.91 Z M676.60,402.32 L670.90,396.62 L665.20,402.32 L670.90,408.02 Z M683.18,402.40 L677.48,396.70 L671.78,402.40 L677.48,408.10 Z M689.38,402.44 L683.68,396.74 L677.98,402.44 L683.68,408.14 Z M695.24,402.49 L689.54,396.79 L683.84,402.49 L689.54,408.19 Z M700.79,402.53 L695.09,396.83 L689.39,402.53 L695.09,408.23 Z M706.07,402.56 L700.37,396.86 L694.67,402.56 L700.37,408.26 Z M711.09,402.59 L705.39,396.89 L699.69,402.59 L705.39,408.29 Z M715.89,402.62 L710.19,396.92 L704.49,402.62 L710.19,408.32 Z M720.48,402.64 L714.78,396.94 L709.08,402.64 L714.78,408.34 Z M724.88,402.66 L719.18,396.96 L713.48,402.66 L719.18,408.36 Z M729.10,402.67 L723.40,396.97 L717.70,402.67 L723.40,408.37 Z M733.17,402.68 L727.47,396.98 L721.77,402.68 L727.47,408.38 Z M737.08,402.69 L731.38,396.99 L725.68,402.69 L731.38,408.39 Z M740.85,402.70 L735.15,397.00 L729.45,402.70 L735.15,408.40 Z M744.49,402.70 L738.79,397.00 L733.09,402.70 L738.79,408.40 Z " fill="none" stroke="#ff0000" stroke-width="2.0" stroke-linejoin="miter" stroke-miterlimit="10"/>
<path d="M135.60,369.60 L139.37,369.60 L143.13,369.60 L146.90,369.61 M158.15,369.63 L161.92,369.63 L165.68,369.64 L169.45,369.66 M180.70,369.70 L184.47,369.71 L188.23,369.73 L192.00,369.74 M203.25,369.80 L207.02,369.82 L210.78,369.84 L214.55,369.86 M225.80,369.92 L229.57,369.94 L233.33,369.96 L237.10,369.98 M248.35,370.05 L252.12,370.08 L255.88,370.11 L259.65,370.14 M270.90,370.25 L274.67,370.29 L278.43,370.33 L282.20,370.37 M293.45,370.51 L297.22,370.56 L300.98,370.61 L304.75,370.66 M316.00,370.82 L319.77,370.88 L323.53,370.94 L327.30,371.00 M338.55,371.18 L342.32,371.24 L346.08,371.31 L349.85,371.38 M361.10,371.61 L364.87,371.69 L368.63,371.78 L372.40,371.87 M383.65,372.16 L387.42,372.26 L391.18,372.36 L394.95,372.47 M406.20,372.79 L409.97,372.90 L413.73,373.01 L417.50,373.12 M428.75,373.47 L432.52,373.60 L436.28,373.72 L440.05,373.85 M451.30,374.25 L455.07,374.39 L458.83,374.54 L462.60,374.68 M473.85,375.13 L477.62,375.29 L481.38,375.44 L485.15,375.60 M496.40,376.09 L500.17,376.26 L503.93,376.42 L507.70,376.60 M518.95,377.16 L522.72,377.36 L526.48,377.58 L530.25,377.82 M541.50,378.61 L545.27,378.90 L549.03,379.19 L552.80,379.51 M564.05,380.55 L567.82,380.87 L571.58,381.14 L575.35,381.37 M586.60,382.00 L590.37,382.23 L594.13,382.50 L597.90,382.81 M609.15,383.85 L612.92,384.20 L616.68,384.52 L620.45,384.84 M631.70,385.74 L635.47,386.04 L639.23,386.34 L643.00,386.65 M654.25,387.58 L658.02,387.87 L661.78,388.15 L665.55,388.42 M676.80,389.19 L680.57,389.46 L684.33,389.74 L688.10,390.05 M699.25,391.00 L706.67,391.57 L714.08,392.01 L721.50,392.37 M732.70,392.85 L735.10,392.95 L737.50,393.06 L739.90,393.15 " fill="none" stroke="#df9600" stroke-width="2.6"/>
<path d="M135.60,425.70 L139.37,425.69 L143.13,425.68 L146.90,425.67 M158.15,425.64 L161.92,425.63 L165.68,425.62 L169.45,425.60 M180.70,425.56 L184.47,425.55 L188.23,425.53 L192.00,425.52 M203.25,425.47 L207.02,425.46 L210.78,425.44 L214.55,425.42 M225.80,425.37 L229.57,425.35 L233.33,425.33 L237.10,425.31 M248.35,425.26 L252.12,425.24 L255.88,425.22 L259.65,425.20 M270.90,425.14 L274.67,425.12 L278.43,425.10 L282.20,425.08 M293.45,425.01 L297.22,424.98 L300.98,424.95 L304.75,424.93 M316.00,424.84 L319.77,424.80 L323.53,424.77 L327.30,424.73 M338.55,424.62 L342.32,424.57 L346.08,424.52 L349.85,424.46 M361.10,424.25 L364.87,424.17 L368.63,424.08 L372.40,423.98 M383.65,423.67 L387.42,423.56 L391.18,423.45 L394.95,423.33 M406.20,422.97 L409.97,422.84 L413.73,422.71 L417.50,422.59 M428.75,422.18 L432.52,422.04 L436.28,421.88 L440.05,421.72 M451.30,421.21 L455.07,421.03 L458.83,420.84 L462.60,420.66 M473.85,420.07 L477.62,419.86 L481.38,419.66 L485.15,419.45 M496.40,418.82 L500.17,418.60 L503.93,418.39 L507.70,418.17 M518.95,417.53 L522.72,417.31 L526.48,417.10 L530.25,416.89 M541.50,416.23 L545.27,416.00 L549.03,415.77 L552.80,415.53 M564.05,414.82 L567.82,414.58 L571.58,414.34 L575.35,414.11 M586.60,413.41 L590.37,413.18 L594.13,412.96 L597.90,412.75 M609.15,412.15 L612.92,411.95 L616.68,411.75 L620.45,411.54 M631.70,410.87 L635.47,410.62 L639.23,410.36 L643.00,410.08 M654.25,408.96 L658.02,408.56 L661.78,408.17 L665.55,407.81 M676.80,406.76 L680.57,406.45 L684.33,406.17 L688.10,405.91 M699.25,405.24 L706.67,404.81 L714.08,404.35 L721.50,403.87 M732.70,403.18 L735.10,403.05 L737.50,402.94 L739.90,402.84 " fill="none" stroke="#df9600" stroke-width="2.6"/>
</g>
<g transform="translate(104.40,504.60)" fill="none" stroke="#000" stroke-linecap="round" stroke-linejoin="round"><path transform="translate(0.000,0.000) scale(0.8000)" d="M4,-9 L22,-9" stroke-width="1.125"/><path transform="translate(20.800,0.000) scale(0.8000)" d="M1,0 L2,-2 M2,-2 L3,-4 L5,-6 L8,-8 M2,-2 L3,-3 L5,-3 M5,-3 L10,-1 L13,-1 L15,-2 L16,-4 L15,-1 L13,0 L10,0 L5,-3 M7,-17 L8,-16 L7,-15 L6,-16 L6,-17 L7,-19 L8,-20 L11,-21 L14,-21 M8,-8 L14,-12 L16,-14 L17,-16 L17,-18 L16,-20 L14,-21 M8,-8 L12,-10 L15,-12 L17,-14 L18,-16 L18,-18 L17,-20 L14,-21" stroke-width="1.125"/><path transform="translate(37.600,0.000) scale(0.8000)" d="M1.25,-1 L2.25,-2 L3.25,-1 L2.25,0 L1.25,-1" stroke-width="1.125"/><path transform="translate(45.600,0.000) scale(0.8000)" d="M7,0 L5,-1 L4,-2 L3,-5 L3,-8 L4,-12 L5,-15 L7,-18 L9,-20 L12,-21 M7,0 L5,-2 L4,-5 L4,-8 L5,-12 L6,-15 L8,-18 L10,-20 L12,-21 M7,0 L9,0 M9,0 L11,-1 L13,-3 L15,-6 L16,-9 L17,-13 L17,-16 L16,-19 L14,-21 M9,0 L12,-1 L14,-3 L16,-6 L17,-9 L18,-13 L18,-16 L17,-19 L16,-20 L14,-21 M12,-21 L14,-21" stroke-width="1.125"/></g>
<g transform="translate(226.44,504.60)" fill="none" stroke="#000" stroke-linecap="round" stroke-linejoin="round"><path transform="translate(0.000,0.000) scale(0.8000)" d="M4,-9 L22,-9" stroke-width="1.125"/><path transform="translate(20.800,0.000) scale(0.8000)" d="M7,0 L12,-17 M8,0 L14,-21 L11,-18 L8,-16 L6,-15 L9,-16 L13,-18" stroke-width="1.125"/><path transform="translate(37.600,0.000) scale(0.8000)" d="M1.25,-1 L2.25,-2 L3.25,-1 L2.25,0 L1.25,-1" stroke-width="1.125"/><path transform="translate(45.600,0.000) scale(0.8000)" d="M3,-4 L4,-5 L3,-6 L2,-5 L2,-4 L3,-2 L4,-1 L7,0 L10,0 M9,-20 L14,-20 L19,-21 L9,-21 L4,-11 L5,-12 L8,-13 L11,-13 M10,0 L13,-1 L15,-3 L16,-6 L16,-9 L15,-11 L14,-12 L11,-13 M10,0 L12,-1 L14,-3 L15,-6 L15,-9 L14,-11 L13,-12 L11,-13" stroke-width="1.125"/></g>
<g transform="translate(348.48,504.60)" fill="none" stroke="#000" stroke-linecap="round" stroke-linejoin="round"><path transform="translate(0.000,0.000) scale(0.8000)" d="M4,-9 L22,-9" stroke-width="1.125"/><path transform="translate(20.800,0.000) scale(0.8000)" d="M7,0 L12,-17 M8,0 L14,-21 L11,-18 L8,-16 L6,-15 L9,-16 L13,-18" stroke-width="1.125"/><path transform="translate(37.600,0.000) scale(0.8000)" d="M1.25,-1 L2.25,-2 L3.25,-1 L2.25,0 L1.25,-1" stroke-width="1.125"/><path transform="translate(45.600,0.000) scale(0.8000)" d="M7,0 L5,-1 L4,-2 L3,-5 L3,-8 L4,-12 L5,-15 L7,-18 L9,-20 L12,-21 M7,0 L5,-2 L4,-5 L4,-8 L5,-12 L6,-15 L8,-18 L10,-20 L12,-21 M7,0 L9,0 M9,0 L11,-1 L13,-3 L15,-6 L16,-9 L17,-13 L17,-16 L16,-19 L14,-21 M9,0 L12,-1 L14,-3 L16,-6 L17,-9 L18,-13 L18,-16 L17,-19 L16,-20 L14,-21 M12,-21 L14,-21" stroke-width="1.125"/></g>
<g transform="translate(470.52,504.60)" fill="none" stroke="#000" stroke-linecap="round" stroke-linejoin="round"><path transform="translate(0.000,0.000) scale(0.8000)" d="M4,-9 L22,-9" stroke-width="1.125"/><path transform="translate(20.800,0.000) scale(0.8000)" d="M7,0 L5,-1 L4,-2 L3,-5 L3,-8 L4,-12 L5,-15 L7,-18 L9,-20 L12,-21 M7,0 L5,-2 L4,-5 L4,-8 L5,-12 L6,-15 L8,-18 L10,-20 L12,-21 M7,0 L9,0 M9,0 L11,-1 L13,-3 L15,-6 L16,-9 L17,-13 L17,-16 L16,-19 L14,-21 M9,0 L12,-1 L14,-3 L16,-6 L17,-9 L18,-13 L18,-16 L17,-19 L16,-20 L14,-21 M12,-21 L14,-21" stroke-width="1.125"/><path transform="translate(37.600,0.000) scale(0.8000)" d="M1.25,-1 L2.25,-2 L3.25,-1 L2.25,0 L1.25,-1" stroke-width="1.125"/><path transform="translate(45.600,0.000) scale(0.8000)" d="M3,-4 L4,-5 L3,-6 L2,-5 L2,-4 L3,-2 L4,-1 L7,0 L10,0 M9,-20 L14,-20 L19,-21 L9,-21 L4,-11 L5,-12 L8,-13 L11,-13 M10,0 L13,-1 L15,-3 L16,-6 L16,-9 L15,-11 L14,-12 L11,-13 M10,0 L12,-1 L14,-3 L15,-6 L15,-9 L14,-11 L13,-12 L11,-13" stroke-width="1.125"/></g>
<g transform="translate(602.96,504.60)" fill="none" stroke="#000" stroke-linecap="round" stroke-linejoin="round"><path transform="translate(0.000,0.000) scale(0.8000)" d="M7,0 L5,-1 L4,-2 L3,-5 L3,-8 L4,-12 L5,-15 L7,-18 L9,-20 L12,-21 M7,0 L5,-2 L4,-5 L4,-8 L5,-12 L6,-15 L8,-18 L10,-20 L12,-21 M7,0 L9,0 M9,0 L11,-1 L13,-3 L15,-6 L16,-9 L17,-13 L17,-16 L16,-19 L14,-21 M9,0 L12,-1 L14,-3 L16,-6 L17,-9 L18,-13 L18,-16 L17,-19 L16,-20 L14,-21 M12,-21 L14,-21" stroke-width="1.125"/><path transform="translate(16.800,0.000) scale(0.8000)" d="M1.25,-1 L2.25,-2 L3.25,-1 L2.25,0 L1.25,-1" stroke-width="1.125"/><path transform="translate(24.800,0.000) scale(0.8000)" d="M7,0 L5,-1 L4,-2 L3,-5 L3,-8 L4,-12 L5,-15 L7,-18 L9,-20 L12,-21 M7,0 L5,-2 L4,-5 L4,-8 L5,-12 L6,-15 L8,-18 L10,-20 L12,-21 M7,0 L9,0 M9,0 L11,-1 L13,-3 L15,-6 L16,-9 L17,-13 L17,-16 L16,-19 L14,-21 M9,0 L12,-1 L14,-3 L16,-6 L17,-9 L18,-13 L18,-16 L17,-19 L16,-20 L14,-21 M12,-21 L14,-21" stroke-width="1.125"/></g>
<g transform="translate(725.00,504.60)" fill="none" stroke="#000" stroke-linecap="round" stroke-linejoin="round"><path transform="translate(0.000,0.000) scale(0.8000)" d="M7,0 L5,-1 L4,-2 L3,-5 L3,-8 L4,-12 L5,-15 L7,-18 L9,-20 L12,-21 M7,0 L5,-2 L4,-5 L4,-8 L5,-12 L6,-15 L8,-18 L10,-20 L12,-21 M7,0 L9,0 M9,0 L11,-1 L13,-3 L15,-6 L16,-9 L17,-13 L17,-16 L16,-19 L14,-21 M9,0 L12,-1 L14,-3 L16,-6 L17,-9 L18,-13 L18,-16 L17,-19 L16,-20 L14,-21 M12,-21 L14,-21" stroke-width="1.125"/><path transform="translate(16.800,0.000) scale(0.8000)" d="M1.25,-1 L2.25,-2 L3.25,-1 L2.25,0 L1.25,-1" stroke-width="1.125"/><path transform="translate(24.800,0.000) scale(0.8000)" d="M3,-4 L4,-5 L3,-6 L2,-5 L2,-4 L3,-2 L4,-1 L7,0 L10,0 M9,-20 L14,-20 L19,-21 L9,-21 L4,-11 L5,-12 L8,-13 L11,-13 M10,0 L13,-1 L15,-3 L16,-6 L16,-9 L15,-11 L14,-12 L11,-13 M10,0 L12,-1 L14,-3 L15,-6 L15,-9 L14,-11 L13,-12 L11,-13" stroke-width="1.125"/></g>
<g transform="translate(69.40,63.50)" fill="none" stroke="#000" stroke-linecap="round" stroke-linejoin="round"><path transform="translate(0.000,0.000) scale(0.8000)" d="M7,0 L5,-1 L4,-2 L3,-5 L3,-8 L4,-12 L5,-15 L7,-18 L9,-20 L12,-21 M7,0 L5,-2 L4,-5 L4,-8 L5,-12 L6,-15 L8,-18 L10,-20 L12,-21 M7,0 L9,0 M9,0 L11,-1 L13,-3 L15,-6 L16,-9 L17,-13 L17,-16 L16,-19 L14,-21 M9,0 L12,-1 L14,-3 L16,-6 L17,-9 L18,-13 L18,-16 L17,-19 L16,-20 L14,-21 M12,-21 L14,-21" stroke-width="1.125"/><path transform="translate(16.800,0.000) scale(0.8000)" d="M1.25,-1 L2.25,-2 L3.25,-1 L2.25,0 L1.25,-1" stroke-width="1.125"/><path transform="translate(24.800,0.000) scale(0.8000)" d="M1,0 L2,-2 M2,-2 L3,-4 L5,-6 L8,-8 M2,-2 L3,-3 L5,-3 M5,-3 L10,-1 L13,-1 L15,-2 L16,-4 L15,-1 L13,0 L10,0 L5,-3 M7,-17 L8,-16 L7,-15 L6,-16 L6,-17 L7,-19 L8,-20 L11,-21 L14,-21 M8,-8 L14,-12 L16,-14 L17,-16 L17,-18 L16,-20 L14,-21 M8,-8 L12,-10 L15,-12 L17,-14 L18,-16 L18,-18 L17,-20 L14,-21" stroke-width="1.125"/><path transform="translate(41.600,0.000) scale(0.8000)" d="M7,0 L5,-1 L4,-2 L3,-5 L3,-8 L4,-12 L5,-15 L7,-18 L9,-20 L12,-21 M7,0 L5,-2 L4,-5 L4,-8 L5,-12 L6,-15 L8,-18 L10,-20 L12,-21 M7,0 L9,0 M9,0 L11,-1 L13,-3 L15,-6 L16,-9 L17,-13 L17,-16 L16,-19 L14,-21 M9,0 L12,-1 L14,-3 L16,-6 L17,-9 L18,-13 L18,-16 L17,-19 L16,-20 L14,-21 M12,-21 L14,-21" stroke-width="1.125"/></g>
<g transform="translate(69.40,161.78)" fill="none" stroke="#000" stroke-linecap="round" stroke-linejoin="round"><path transform="translate(0.000,0.000) scale(0.8000)" d="M7,0 L5,-1 L4,-2 L3,-5 L3,-8 L4,-12 L5,-15 L7,-18 L9,-20 L12,-21 M7,0 L5,-2 L4,-5 L4,-8 L5,-12 L6,-15 L8,-18 L10,-20 L12,-21 M7,0 L9,0 M9,0 L11,-1 L13,-3 L15,-6 L16,-9 L17,-13 L17,-16 L16,-19 L14,-21 M9,0 L12,-1 L14,-3 L16,-6 L17,-9 L18,-13 L18,-16 L17,-19 L16,-20 L14,-21 M12,-21 L14,-21" stroke-width="1.125"/><path transform="translate(16.800,0.000) scale(0.8000)" d="M1.25,-1 L2.25,-2 L3.25,-1 L2.25,0 L1.25,-1" stroke-width="1.125"/><path transform="translate(24.800,0.000) scale(0.8000)" d="M7,0 L12,-17 M8,0 L14,-21 L11,-18 L8,-16 L6,-15 L9,-16 L13,-18" stroke-width="1.125"/><path transform="translate(41.600,0.000) scale(0.8000)" d="M3,-4 L4,-5 L3,-6 L2,-5 L2,-4 L3,-2 L4,-1 L7,0 L10,0 M9,-20 L14,-20 L19,-21 L9,-21 L4,-11 L5,-12 L8,-13 L11,-13 M10,0 L13,-1 L15,-3 L16,-6 L16,-9 L15,-11 L14,-12 L11,-13 M10,0 L12,-1 L14,-3 L15,-6 L15,-9 L14,-11 L13,-12 L11,-13" stroke-width="1.125"/></g>
<g transform="translate(69.40,267.25)" fill="none" stroke="#000" stroke-linecap="round" stroke-linejoin="round"><path transform="translate(0.000,0.000) scale(0.8000)" d="M7,0 L5,-1 L4,-2 L3,-5 L3,-8 L4,-12 L5,-15 L7,-18 L9,-20 L12,-21 M7,0 L5,-2 L4,-5 L4,-8 L5,-12 L6,-15 L8,-18 L10,-20 L12,-21 M7,0 L9,0 M9,0 L11,-1 L13,-3 L15,-6 L16,-9 L17,-13 L17,-16 L16,-19 L14,-21 M9,0 L12,-1 L14,-3 L16,-6 L17,-9 L18,-13 L18,-16 L17,-19 L16,-20 L14,-21 M12,-21 L14,-21" stroke-width="1.125"/><path transform="translate(16.800,0.000) scale(0.8000)" d="M1.25,-1 L2.25,-2 L3.25,-1 L2.25,0 L1.25,-1" stroke-width="1.125"/><path transform="translate(24.800,0.000) scale(0.8000)" d="M7,0 L12,-17 M8,0 L14,-21 L11,-18 L8,-16 L6,-15 L9,-16 L13,-18" stroke-width="1.125"/><path transform="translate(41.600,0.000) scale(0.8000)" d="M7,0 L5,-1 L4,-2 L3,-5 L3,-8 L4,-12 L5,-15 L7,-18 L9,-20 L12,-21 M7,0 L5,-2 L4,-5 L4,-8 L5,-12 L6,-15 L8,-18 L10,-20 L12,-21 M7,0 L9,0 M9,0 L11,-1 L13,-3 L15,-6 L16,-9 L17,-13 L17,-16 L16,-19 L14,-21 M9,0 L12,-1 L14,-3 L16,-6 L17,-9 L18,-13 L18,-16 L17,-19 L16,-20 L14,-21 M12,-21 L14,-21" stroke-width="1.125"/></g>
<g transform="translate(69.40,372.72)" fill="none" stroke="#000" stroke-linecap="round" stroke-linejoin="round"><path transform="translate(0.000,0.000) scale(0.8000)" d="M7,0 L5,-1 L4,-2 L3,-5 L3,-8 L4,-12 L5,-15 L7,-18 L9,-20 L12,-21 M7,0 L5,-2 L4,-5 L4,-8 L5,-12 L6,-15 L8,-18 L10,-20 L12,-21 M7,0 L9,0 M9,0 L11,-1 L13,-3 L15,-6 L16,-9 L17,-13 L17,-16 L16,-19 L14,-21 M9,0 L12,-1 L14,-3 L16,-6 L17,-9 L18,-13 L18,-16 L17,-19 L16,-20 L14,-21 M12,-21 L14,-21" stroke-width="1.125"/><path transform="translate(16.800,0.000) scale(0.8000)" d="M1.25,-1 L2.25,-2 L3.25,-1 L2.25,0 L1.25,-1" stroke-width="1.125"/><path transform="translate(24.800,0.000) scale(0.8000)" d="M7,0 L5,-1 L4,-2 L3,-5 L3,-8 L4,-12 L5,-15 L7,-18 L9,-20 L12,-21 M7,0 L5,-2 L4,-5 L4,-8 L5,-12 L6,-15 L8,-18 L10,-20 L12,-21 M7,0 L9,0 M9,0 L11,-1 L13,-3 L15,-6 L16,-9 L17,-13 L17,-16 L16,-19 L14,-21 M9,0 L12,-1 L14,-3 L16,-6 L17,-9 L18,-13 L18,-16 L17,-19 L16,-20 L14,-21 M12,-21 L14,-21" stroke-width="1.125"/><path transform="translate(41.600,0.000) scale(0.8000)" d="M3,-4 L4,-5 L3,-6 L2,-5 L2,-4 L3,-2 L4,-1 L7,0 L10,0 M9,-20 L14,-20 L19,-21 L9,-21 L4,-11 L5,-12 L8,-13 L11,-13 M10,0 L13,-1 L15,-3 L16,-6 L16,-9 L15,-11 L14,-12 L11,-13 M10,0 L12,-1 L14,-3 L15,-6 L15,-9 L14,-11 L13,-12 L11,-13" stroke-width="1.125"/></g>
<g transform="translate(69.40,468.90)" fill="none" stroke="#000" stroke-linecap="round" stroke-linejoin="round"><path transform="translate(0.000,0.000) scale(0.8000)" d="M7,0 L5,-1 L4,-2 L3,-5 L3,-8 L4,-12 L5,-15 L7,-18 L9,-20 L12,-21 M7,0 L5,-2 L4,-5 L4,-8 L5,-12 L6,-15 L8,-18 L10,-20 L12,-21 M7,0 L9,0 M9,0 L11,-1 L13,-3 L15,-6 L16,-9 L17,-13 L17,-16 L16,-19 L14,-21 M9,0 L12,-1 L14,-3 L16,-6 L17,-9 L18,-13 L18,-16 L17,-19 L16,-20 L14,-21 M12,-21 L14,-21" stroke-width="1.125"/><path transform="translate(16.800,0.000) scale(0.8000)" d="M1.25,-1 L2.25,-2 L3.25,-1 L2.25,0 L1.25,-1" stroke-width="1.125"/><path transform="translate(24.800,0.000) scale(0.8000)" d="M7,0 L5,-1 L4,-2 L3,-5 L3,-8 L4,-12 L5,-15 L7,-18 L9,-20 L12,-21 M7,0 L5,-2 L4,-5 L4,-8 L5,-12 L6,-15 L8,-18 L10,-20 L12,-21 M7,0 L9,0 M9,0 L11,-1 L13,-3 L15,-6 L16,-9 L17,-13 L17,-16 L16,-19 L14,-21 M9,0 L12,-1 L14,-3 L16,-6 L17,-9 L18,-13 L18,-16 L17,-19 L16,-20 L14,-21 M12,-21 L14,-21" stroke-width="1.125"/><path transform="translate(41.600,0.000) scale(0.8000)" d="M7,0 L5,-1 L4,-2 L3,-5 L3,-8 L4,-12 L5,-15 L7,-18 L9,-20 L12,-21 M7,0 L5,-2 L4,-5 L4,-8 L5,-12 L6,-15 L8,-18 L10,-20 L12,-21 M7,0 L9,0 M9,0 L11,-1 L13,-3 L15,-6 L16,-9 L17,-13 L17,-16 L16,-19 L14,-21 M9,0 L12,-1 L14,-3 L16,-6 L17,-9 L18,-13 L18,-16 L17,-19 L16,-20 L14,-21 M12,-21 L14,-21" stroke-width="1.125"/></g>
<g transform="translate(14.70,55.60)" fill="none" stroke="#000" stroke-linecap="round" stroke-linejoin="round"><path transform="translate(0.000,0.000) scale(0.6650)" d="M9,-23 L7,-19 L6,-16 L5,-11 L5,-7 L6,-2 L7,1 L9,5 M9,-23 L11,-25 M9,-23 L7,-20 L5,-16 L4,-11 L4,-7 L5,-2 L7,2 L9,5 M9,5 L11,7" stroke-width="1.023"/></g>
<g transform="translate(24.30,55.60)" fill="none" stroke="#000" stroke-linecap="round" stroke-linejoin="round"><path transform="translate(0.000,0.000) scale(0.6650)" d="M9,-14 L7,-13 L5,-11 L4,-8 L4,-6 L5,-3 L7,-1 L9,0 M9,-14 L6,-13 L4,-11 L3,-8 L3,-6 L4,-3 L6,-1 L9,0 M9,-14 L11,-14 L13,-13 L15,-11 M9,0 L11,0 L13,-1 L15,-3 M12,-21 L15,-21 M15,-21 L16,-21 L16,0 M15,-21 L15,-11 M15,-11 L15,-3 M15,-3 L15,0 L16,0 M16,0 L19,0" stroke-width="1.023"/></g>
<g transform="translate(38.70,55.60)" fill="none" stroke="#000" stroke-linecap="round" stroke-linejoin="round"><path transform="translate(0.000,0.000) scale(0.6650)" d="M3,-25 L5,-23 M3,7 L5,5 M5,-23 L7,-19 L8,-16 L9,-11 L9,-7 L8,-2 L7,1 L5,5 M5,-23 L7,-20 L9,-16 L10,-11 L10,-7 L9,-2 L7,2 L5,5" stroke-width="1.023"/></g>
<g transform="translate(353.20,535.60)" fill="none" stroke="#000" stroke-linecap="round" stroke-linejoin="round"><path transform="translate(0.000,0.000) scale(0.8000)" d="M5,-21 L8,-21 M5,0 L4,-1 L4,-3 L5,-7 L9,-21 L8,-21 M5,0 L4,0 L3,-1 L3,-3 L4,-7 L8,-21 M5,0 L7,0 L9,-2 L10,-4" stroke-width="1.125"/></g>
<g transform="translate(363.00,535.60)" fill="none" stroke="#000" stroke-linecap="round" stroke-linejoin="round"><path transform="translate(0.000,0.000) scale(0.8000)" d="M5,-1 L4,-2 L3,-4 L3,-7 L4,-10 L6,-13 L9,-14 M5,-1 L7,0 L9,0 M5,-1 L4,-3 L4,-7 L5,-10 L7,-13 L9,-14 M9,-14 L11,-14 L13,-13 M9,0 L11,-1 L13,-4 L14,-7 L14,-11 L13,-13 M9,0 L12,-1 L14,-4 L15,-7 L15,-10 L14,-12 L13,-13" stroke-width="1.125"/></g>
<g transform="translate(377.00,535.60)" fill="none" stroke="#000" stroke-linecap="round" stroke-linejoin="round"><path transform="translate(0.000,0.000) scale(0.8000)" d="M2,5 L3,4 L2,3 L1,4 L1,5 L2,6 L4,7 L7,7 M5,-1 L4,-2 L3,-4 L3,-7 L4,-10 L6,-13 L9,-14 M5,-1 L7,0 L9,0 L11,-1 L13,-4 L14,-7 M5,-1 L4,-3 L4,-7 L5,-10 L7,-13 L9,-14 M7,7 L9,6 L11,3 L12,0 L14,-7 M7,7 L10,6 L12,3 L13,0 L17,-14 M9,-14 L11,-14 L13,-13 L14,-10 L14,-7 M14,-7 L16,-14" stroke-width="1.125"/></g>
<g transform="translate(393.60,535.60)" fill="none" stroke="#000" stroke-linecap="round" stroke-linejoin="round"><path transform="translate(0.000,5.840) scale(0.4960)" d="M7,0 L12,-17 M8,0 L14,-21 L11,-18 L8,-16 L6,-15 L9,-16 L13,-18" stroke-width="1.815"/></g>
<g transform="translate(403.20,535.60)" fill="none" stroke="#000" stroke-linecap="round" stroke-linejoin="round"><path transform="translate(0.000,5.840) scale(0.4960)" d="M7,0 L5,-1 L4,-2 L3,-5 L3,-8 L4,-12 L5,-15 L7,-18 L9,-20 L12,-21 M7,0 L5,-2 L4,-5 L4,-8 L5,-12 L6,-15 L8,-18 L10,-20 L12,-21 M7,0 L9,0 M9,0 L11,-1 L13,-3 L15,-6 L16,-9 L17,-13 L17,-16 L16,-19 L14,-21 M9,0 L12,-1 L14,-3 L16,-6 L17,-9 L18,-13 L18,-16 L17,-19 L16,-20 L14,-21 M12,-21 L14,-21" stroke-width="1.815"/></g>
<g transform="translate(413.40,535.60)" fill="none" stroke="#000" stroke-linecap="round" stroke-linejoin="round"><path transform="translate(0.000,0.000) scale(0.8000)" d="M11,-22 L8,-18 L6,-14 L5,-11 L4,-6 L4,-1 L5,4 L6,7 L5,5 L4,2 L3,-3 L3,-7 L4,-12 L6,-16 L8,-19 L11,-22 M11,-22 L15,-25" stroke-width="1.125"/></g>
<g transform="translate(425.70,535.60)" fill="none" stroke="#000" stroke-linecap="round" stroke-linejoin="round"><path transform="translate(0.000,0.000) scale(0.8000)" d="M9,-14 L7,-13 L5,-11 L4,-8 L4,-6 L5,-3 L7,-1 L9,0 M9,-14 L6,-13 L4,-11 L3,-8 L3,-6 L4,-3 L6,-1 L9,0 M9,-14 L11,-14 L13,-13 L15,-11 M9,0 L11,0 L13,-1 L15,-3 M12,-21 L15,-21 M15,-21 L16,-21 L16,0 M15,-21 L15,-11 M15,-11 L15,-3 M15,-3 L15,0 L16,0 M16,0 L19,0" stroke-width="1.125"/></g>
<g transform="translate(442.50,535.60)" fill="none" stroke="#000" stroke-linecap="round" stroke-linejoin="round"><path transform="translate(0.000,0.000) scale(0.8000)" d="M-2.4,7 L23.7,-25" stroke-width="1.125"/></g>
<g transform="translate(459.90,535.60)" fill="none" stroke="#000" stroke-linecap="round" stroke-linejoin="round"><path transform="translate(0.000,0.000) scale(0.8000)" d="M0,0 L3,0 M3,0 L9,-21 M3,0 L4,0 M4,0 L7,0 M4,0 L10,-21 M6,-21 L9,-21 M7,-11 L12,-11 M9,-21 L10,-21 M10,-21 L17,-21 M12,-11 L14,-10 L15,-9 M12,-11 L16,-11 M15,-9 L16,-1 L17,0 L19,0 L20,-2 M15,-9 L17,-2 L18,-1 L19,-1 L20,-2 M16,-11 L18,-12 L19,-13 L20,-16 L20,-18 L19,-20 L17,-21 M16,-11 L19,-12 L20,-13 L21,-16 L21,-18 L20,-20 L17,-21 M20,-3 L20,-2" stroke-width="1.125"/></g>
<g transform="translate(478.70,535.60)" fill="none" stroke="#000" stroke-linecap="round" stroke-linejoin="round"><path transform="translate(0.000,0.000) scale(0.8000)" d="M4,-9 L22,-9" stroke-width="1.125"/></g>
<g transform="translate(499.20,535.60)" fill="none" stroke="#000" stroke-linecap="round" stroke-linejoin="round"><path transform="translate(0.000,0.000) scale(0.8000)" d="M1,0 L2,-2 M2,-2 L3,-4 L5,-6 L8,-8 M2,-2 L3,-3 L5,-3 M5,-3 L10,-1 L13,-1 L15,-2 L16,-4 L15,-1 L13,0 L10,0 L5,-3 M7,-17 L8,-16 L7,-15 L6,-16 L6,-17 L7,-19 L8,-20 L11,-21 L14,-21 M8,-8 L14,-12 L16,-14 L17,-16 L17,-18 L16,-20 L14,-21 M8,-8 L12,-10 L15,-12 L17,-14 L18,-16 L18,-18 L17,-20 L14,-21" stroke-width="1.125"/></g>
<g transform="translate(516.50,535.60)" fill="none" stroke="#000" stroke-linecap="round" stroke-linejoin="round"><path transform="translate(0.000,0.000) scale(0.8000)" d="M0,7 L4,4 M4,4 L7,1 L9,-2 L11,-6 L12,-11 L12,-15 L11,-20 L10,-23 L9,-25 L10,-22 L11,-17 L11,-12 L10,-7 L9,-4 L7,0 L4,4" stroke-width="1.125"/></g>
<g transform="translate(47.00,295.50) rotate(-90)" fill="none" stroke="#000" stroke-linecap="round" stroke-linejoin="round"><path transform="translate(0.000,0.000) scale(0.8000)" d="M0,-0.6 L0,-24.2" stroke-width="1.187"/></g>
<g transform="translate(47.00,283.26) rotate(-90)" fill="none" stroke="#000" stroke-linecap="round" stroke-linejoin="round"><path transform="translate(0.000,-0.480) scale(0.8000)" d="M-2.6,-13.3 C-3.6,-13 -4.6,-12.4 -5.4,-11.6 C-7.3,-9.8 -8.3,-7.8 -8.3,-5.7 C-8.3,-4 -7.9,-2.8 -7.1,-2 C-6.2,-0.7 -5.3,0 -4.2,0 C-3,0 -2,-0.2 -1.3,-0.8 C-0.5,-1.8 -0.15,-3.6 0,-6.5 C0.15,-3.6 0.5,-1.6 1.4,-0.6 C2.2,-0.1 3,0 4,0 C5.3,0 6.3,-1 7,-2.55 C7.9,-4.2 8.2,-6 8.2,-7.9 C8.2,-9.6 7.9,-10.9 7.4,-11.8 C7,-12.4 6.7,-12.9 6.3,-13.2" stroke-width="1.562"/></g>
<g transform="translate(47.00,272.06) rotate(-90)" fill="none" stroke="#000" stroke-linecap="round" stroke-linejoin="round"><path transform="translate(0.000,5.680) scale(0.4960)" d="M0,-0.5 L0,-19.5" stroke-width="1.915"/></g>
<g transform="translate(47.00,265.42) rotate(-90)" fill="none" stroke="#000" stroke-linecap="round" stroke-linejoin="round"><path transform="translate(0.000,0.000) scale(0.8000)" d="M0,-0.6 L0,-24.2" stroke-width="1.187"/></g>
<g transform="translate(47.00,263.02) rotate(-90)" fill="none" stroke="#000" stroke-linecap="round" stroke-linejoin="round"><path transform="translate(0.000,0.000) scale(0.8000)" d="M0,7 L25.75,-25" stroke-width="1.187"/></g>
<g transform="translate(47.00,235.66) rotate(-90)" fill="none" stroke="#000" stroke-linecap="round" stroke-linejoin="round"><path transform="translate(0.000,-0.480) scale(0.8000)" d="M-2.6,-13.3 C-3.6,-13 -4.6,-12.4 -5.4,-11.6 C-7.3,-9.8 -8.3,-7.8 -8.3,-5.7 C-8.3,-4 -7.9,-2.8 -7.1,-2 C-6.2,-0.7 -5.3,0 -4.2,0 C-3,0 -2,-0.2 -1.3,-0.8 C-0.5,-1.8 -0.15,-3.6 0,-6.5 C0.15,-3.6 0.5,-1.6 1.4,-0.6 C2.2,-0.1 3,0 4,0 C5.3,0 6.3,-1 7,-2.55 C7.9,-4.2 8.2,-6 8.2,-7.9 C8.2,-9.6 7.9,-10.9 7.4,-11.8 C7,-12.4 6.7,-12.9 6.3,-13.2" stroke-width="1.562"/></g>
<g transform="translate(47.00,226.14) rotate(-90)" fill="none" stroke="#000" stroke-linecap="round" stroke-linejoin="round"><path transform="translate(0.000,5.680) scale(0.4960)" d="M4,-11 L4,-21 L13,-21 L16,-20 L17,-19 L18,-17 L18,-15 L17,-13 L16,-12 L13,-11 L11,-11 M4,-11 L11,-11 M4,-11 L4,0 M11,-11 L18,0" stroke-width="1.915"/></g>
</svg>
</body></html>
